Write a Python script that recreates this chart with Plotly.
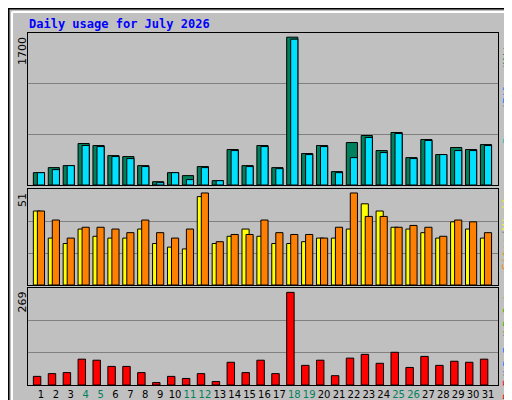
import plotly.graph_objects as go

days = list(range(1, 32))
hits = [142,200,223,477,454,338,327,223,38,142,108,212,50,408,223,454,200,1700,362,454,154,488,569,396,604,315,523,350,431,408,465]
files = [142,177,223,454,442,327,304,212,27,142,62,200,50,396,212,442,188,1677,350,442,142,315,546,373,592,304,512,350,396,396,454]
visits = [41,26,23,31,27,26,26,31,23,21,20,49,23,27,31,27,23,23,24,26,26,31,45,41,32,31,29,26,35,31,26]
sites = [41,36,26,32,32,31,29,36,29,26,31,51,24,28,28,36,29,28,28,26,32,51,38,38,32,33,32,27,36,35,29]
kbytes = [25,33,36,75,72,54,54,36,7,25,19,33,10,66,36,72,33,269,57,72,27,78,89,63,95,51,83,57,69,66,75]
weekends = [4,5,11,12,18,19,25,26]
ticklabels = [f'<span style="color:#00805c">{d}</span>' if d in weekends else str(d) for d in days]

line = dict(color="black", width=1)
fig = go.Figure()
fig.add_bar(x=days, y=hits, offset=-0.51, width=0.75, marker=dict(color="#00805c", line=line), xaxis="x", yaxis="y")
fig.add_bar(x=days, y=files, offset=-0.24, width=0.48, marker=dict(color="#00e0ff", line=line), xaxis="x", yaxis="y")
fig.add_bar(x=days, y=visits, offset=-0.51, width=0.48, marker=dict(color="#ffff00", line=line), xaxis="x2", yaxis="y2")
fig.add_bar(x=days, y=sites, offset=-0.24, width=0.48, marker=dict(color="#ff8000", line=line), xaxis="x2", yaxis="y2")
fig.add_bar(x=days, y=kbytes, offset=-0.51, width=0.5, marker=dict(color="#ff0000", line=line), xaxis="x3", yaxis="y3")

xr = [0.128, 31.67]
xdom = [0.039, 0.957]
common_x = dict(range=xr, domain=xdom, showgrid=False, zeroline=False, showline=True, linecolor="black", mirror=True,
                ticks="", automargin=False)
def yax(rng, dom, anchor):
    return dict(range=[0, rng], domain=dom, anchor=anchor, dtick=rng/3, tick0=0, showgrid=True, gridcolor="#808080",
                gridwidth=1, showticklabels=False, zeroline=False, showline=True, linecolor="black", mirror=True,
                ticks="", automargin=False)

fig.update_layout(
    width=512, height=400, margin=dict(l=0, r=0, t=0, b=0, autoexpand=False),
    paper_bgcolor="#c0c0c0", plot_bgcolor="#c0c0c0", showlegend=False, barmode="overlay",
    font=dict(family="DejaVu Sans", size=11, color="black"),
    xaxis=dict(common_x, anchor="y", showticklabels=False),
    xaxis2=dict(common_x, anchor="y2", showticklabels=False),
    xaxis3=dict(common_x, anchor="y3", showticklabels=True, tickmode="array", tickvals=days, ticktext=ticklabels,
                tickfont=dict(size=10), tickangle=0),
    yaxis=yax(1748, [0.5575, 0.9375], "x"),
    yaxis2=yax(53.2, [0.3075, 0.5475], "x2"),
    yaxis3=yax(281.7, [0.0575, 0.30], "x3"),
)

ann = [
    dict(x=19/512, y=1-16/400, text="<b>Daily usage for July 2026</b>", xanchor="left", yanchor="middle",
         font=dict(family="DejaVu Sans Mono", size=12, color="#0000ff")),
    dict(x=14/512, y=1-27/400, text="1700", textangle=-90, xanchor="center", yanchor="top"),
    dict(x=14/512, y=1-183/400, text="51", textangle=-90, xanchor="center", yanchor="top"),
    dict(x=14/512, y=1-282/400, text="269", textangle=-90, xanchor="center", yanchor="top"),
    dict(x=499/512, y=1-28/400, textangle=-90, xanchor="center", yanchor="top",
         font=dict(family="DejaVu Sans Mono", size=11),
         text='<span style="color:#00c0c0">Pages</span><span style="color:#808080">/</span><span style="color:#0080ff">Files</span><span style="color:#808080">/</span><span style="color:#00805c">Hits</span>'),
    dict(x=499/512, y=1-180/400, textangle=-90, xanchor="center", yanchor="top",
         font=dict(family="DejaVu Sans Mono", size=11),
         text='<span style="color:#ff8000">Sites</span><span style="color:#808080">/</span><span style="color:#ffff00">Visits</span>'),
    dict(x=499/512, y=1-284/400, textangle=-90, xanchor="center", yanchor="top",
         font=dict(family="DejaVu Sans Mono", size=11),
         text='<span style="color:#ff0000">kB F</span><span style="color:#808080">/</span><span style="color:#0080ff">kB In</span><span style="color:#808080">/</span><span style="color:#00c000">kB Out</span>'),
]
fig.update_layout(annotations=[dict(a, xref="paper", yref="paper", showarrow=False) for a in ann])

fig.update_layout(shapes=[
    dict(type="rect", xref="paper", yref="paper", x0=0.001, y0=0.001, x1=0.999, y1=0.999, line=dict(color="black", width=2)),
    dict(type="line", xref="paper", yref="paper", x0=4/512, y0=1-4/400, x1=508/512, y1=1-4/400, line=dict(color="white", width=2)),
    dict(type="line", xref="paper", yref="paper", x0=4/512, y0=4/400, x1=4/512, y1=1-4/400, line=dict(color="white", width=2)),
    dict(type="line", xref="paper", yref="paper", x0=4/512, y0=4/400, x1=508/512, y1=4/400, line=dict(color="#808080", width=3)),
    dict(type="line", xref="paper", yref="paper", x0=508/512, y0=4/400, x1=508/512, y1=1-4/400, line=dict(color="#808080", width=3)),
])

fig.write_html("out.html")
